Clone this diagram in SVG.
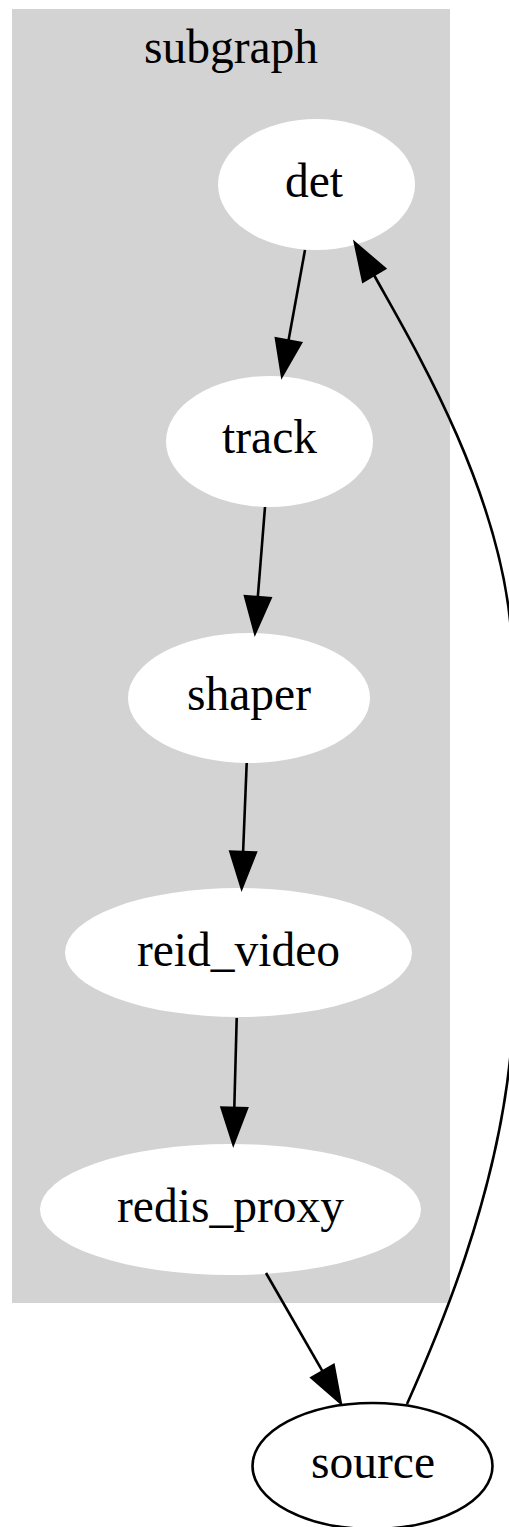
<svg xmlns="http://www.w3.org/2000/svg" width="509" height="1527" viewBox="0 0 509 1527">
  <style>
    .label { font-family: "Liberation Serif", "Times New Roman", serif; font-size: 47.5px; fill: #000; text-anchor: middle; }
    .inner { fill: #ffffff; stroke: none; }
    .outer { fill: none; stroke: #000; stroke-width: 2.6; }
    .edge { fill: none; stroke: #000; stroke-width: 2.6; }
    .head { fill: #000; stroke: #000; stroke-width: 2.6; stroke-linejoin: miter; }
  </style>
  <rect width="509" height="1527" fill="#ffffff"/>

  <!-- cluster -->
  <g id="cluster_subgraph">
    <rect x="12" y="9" width="438" height="1294" fill="#d3d3d3"/>
    <text class="label" x="231" y="63">subgraph</text>
  </g>

  <!-- nodes -->
  <g id="node_det">
    <ellipse class="inner" cx="316.5" cy="184.5" rx="98.5" ry="65.5"/>
    <text class="label" x="314" y="197">det</text>
  </g>
  <g id="node_track">
    <ellipse class="inner" cx="269.5" cy="441.5" rx="103.5" ry="65.5"/>
    <text class="label" x="269.5" y="452.5">track</text>
  </g>
  <g id="node_shaper">
    <ellipse class="inner" cx="249" cy="698" rx="121" ry="65"/>
    <text class="label" x="249" y="709.5">shaper</text>
  </g>
  <g id="node_reid_video">
    <ellipse class="inner" cx="238.5" cy="952.5" rx="173.5" ry="64.5"/>
    <text class="label" x="238.5" y="966">reid_video</text>
  </g>
  <g id="node_redis_proxy">
    <ellipse class="inner" cx="230.5" cy="1209.5" rx="190.5" ry="65.5"/>
    <text class="label" x="230.5" y="1221.5">redis_proxy</text>
  </g>
  <g id="node_source">
    <ellipse class="outer" cx="372.5" cy="1466" rx="120" ry="63"/>
    <text class="label" x="373" y="1478">source</text>
  </g>

  <!-- connectors -->
  <g id="edges">
    <g id="edge_det_track">
      <path class="edge" d="M305,250 L288.5,340.6"/>
      <polygon class="head" points="301,342.9 282,376 276,338.3"/>
    </g>
    <g id="edge_track_shaper">
      <path class="edge" d="M265,507 L257.8,597.1"/>
      <polygon class="head" points="270.5,598.1 255,633 245.1,596.1"/>
    </g>
    <g id="edge_shaper_reid_video">
      <path class="edge" d="M246.7,763 L243.1,852"/>
      <polygon class="head" points="255.8,852.5 241.7,888 230.4,851.5"/>
    </g>
    <g id="edge_reid_video_redis_proxy">
      <path class="edge" d="M236.7,1018 L234.3,1108"/>
      <polygon class="head" points="247,1108.3 233.3,1144 221.6,1107.7"/>
    </g>
    <g id="edge_redis_proxy_source">
      <path class="edge" d="M266,1273 L322.6,1371.4"/>
      <polygon class="head" points="333.6,1365.1 340.7,1403 311.6,1377.7"/>
    </g>
    <g id="edge_source_det">
      <path class="edge" d="M407,1404 C440,1330 495,1200 510,1060 C525,920 525,760 510,620 C495,480 410,340 374,275"/>
      <polygon class="head" points="384.9,268.5 355,243 363.1,281.5"/>
    </g>
  </g>
</svg>
